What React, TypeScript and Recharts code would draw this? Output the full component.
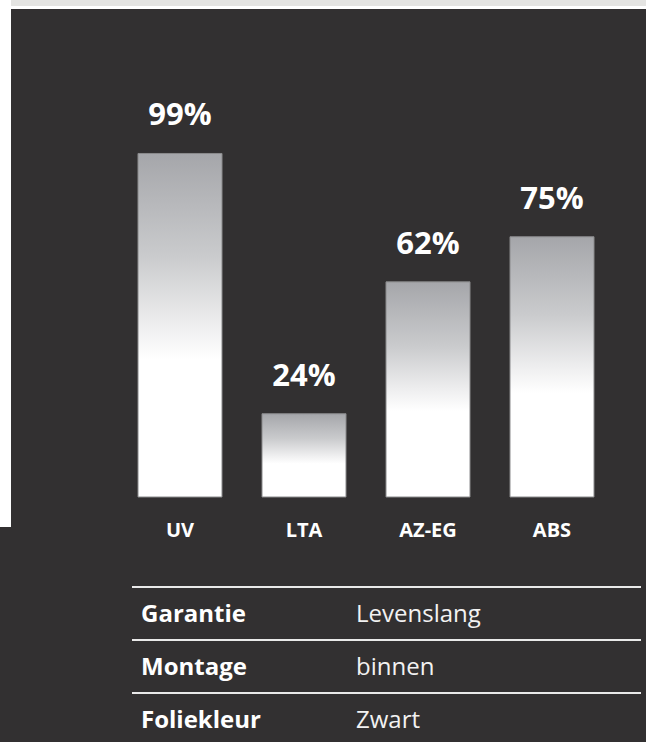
import { Bar, BarChart, LabelList, XAxis, YAxis } from "recharts";

const categories = ["UV", "LTA", "AZ-EG", "ABS"];
const values = [99, 24, 62, 75];

const specLabels = ["Garantie", "Montage", "Foliekleur"];
const specValues = ["Levenslang", "binnen", "Zwart"];

const data = categories.map((name, i) => ({ name, value: values[i] }));

const FONT = "'Open Sans', sans-serif";
const BG = "#323031";

function CategoryTick(props: any) {
  const { x, y, payload } = props;
  return (
    <text
      x={x}
      y={y + 40}
      textAnchor="middle"
      fill="#ffffff"
      fontSize={20}
      fontWeight={700}
      fontFamily={FONT}
    >
      {payload.value}
    </text>
  );
}

function ValueLabel(props: any) {
  const { x, y, width, value } = props;
  return (
    <text
      x={Number(x) + Number(width) / 2}
      y={Number(y) - 28}
      textAnchor="middle"
      fill="#ffffff"
      fontSize={31}
      fontWeight={700}
      fontFamily={FONT}
    >
      {value}%
    </text>
  );
}

export default function App() {
  return (
    <div
      style={{
        position: "absolute",
        left: 0,
        top: 0,
        width: 646,
        height: 742,
        background: "#ffffff",
        overflow: "hidden",
      }}
    >
      <div style={{ position: "absolute", left: 11, top: 0, width: 635, height: 6, background: "#e4e4e2" }} />
      <div style={{ position: "absolute", left: 11, top: 9, width: 635, height: 733, background: BG }} />
      <div style={{ position: "absolute", left: 0, top: 527, width: 11, height: 215, background: BG }} />

      <div style={{ position: "absolute", left: 0, top: 0 }}>
        <BarChart
          width={646}
          height={560}
          data={data}
          margin={{ top: 150, right: 32, left: 118, bottom: 0 }}
        >
          <defs>
            <linearGradient id="barFill" x1="0" y1="0" x2="0" y2="1">
              <stop offset="0%" stopColor="#a5a6aa" />
              <stop offset="30%" stopColor="#cacbcd" />
              <stop offset="50%" stopColor="#eeeeef" />
              <stop offset="60%" stopColor="#ffffff" />
              <stop offset="100%" stopColor="#ffffff" />
            </linearGradient>
          </defs>
          <XAxis
            dataKey="name"
            axisLine={false}
            tickLine={false}
            tickSize={0}
            tickMargin={0}
            height={63}
            interval={0}
            tick={<CategoryTick />}
          />
          <YAxis hide domain={[0, 100]} />
          <Bar
            dataKey="value"
            barSize={84}
            fill="url(#barFill)"
            stroke="#8a8a8c"
            strokeWidth={1}
            isAnimationActive={false}
          >
            <LabelList dataKey="value" content={<ValueLabel />} />
          </Bar>
        </BarChart>
      </div>

      <svg
        width={646}
        height={742}
        style={{ position: "absolute", left: 0, top: 0, pointerEvents: "none" }}
      >
        {specLabels.map((label, i) => (
          <g key={label}>
            <rect x={132} y={586 + i * 53} width={509} height={2} fill="#e9e9e9" />
            <text
              x={141}
              y={622 + i * 53}
              fill="#ffffff"
              fontSize={24}
              fontWeight={700}
              fontFamily={FONT}
            >
              {label}
            </text>
            <text
              x={356}
              y={622 + i * 53}
              fill="#f2f2f2"
              fontSize={24}
              fontFamily={FONT}
            >
              {specValues[i]}
            </text>
          </g>
        ))}
      </svg>
    </div>
  );
}
